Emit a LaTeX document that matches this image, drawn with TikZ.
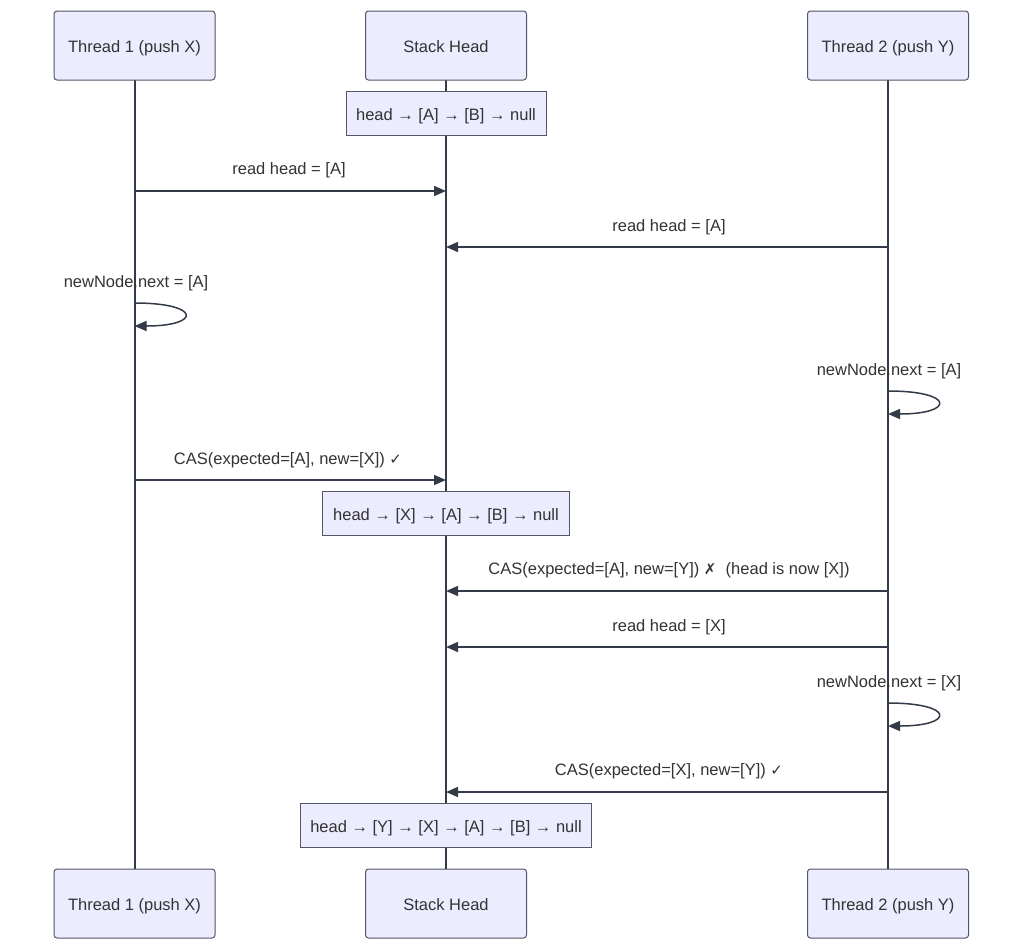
\documentclass[tikz,border=0pt]{standalone}
\usepackage{fontspec}
\setmainfont{Liberation Sans}
\newfontfamily\symfont{DejaVu Sans}
\usetikzlibrary{arrows.meta}
\definecolor{linec}{HTML}{333A48}
\definecolor{boxfill}{HTML}{ECECFF}
\definecolor{boxdraw}{HTML}{555566}
\definecolor{txt}{HTML}{333333}
\tikzset{
  actor/.style={draw=boxdraw, fill=boxfill, rounded corners=3pt, line width=1pt,
    minimum width=161pt, minimum height=69pt, inner sep=0pt, text=txt,
    text height=14pt, text depth=0pt,
    font=\fontsize{16.5}{19}\selectfont},
  notebox/.style={draw=boxdraw, fill=boxfill, line width=1pt, minimum height=44pt,
    inner xsep=10pt, inner ysep=0pt, text=txt, text height=14pt, text depth=0pt,
    font=\fontsize{16.5}{19}\selectfont},
  life/.style={draw=linec, line width=2pt},
  msg/.style={draw=linec, line width=1.5pt, -{Triangle[length=12pt,width=10pt]}},
  lbl/.style={text=txt, font=\fontsize{16.5}{19}\selectfont, inner sep=0pt,
    text height=14pt, text depth=0pt}
}
\begin{document}
\begin{tikzpicture}[x=1pt,y=-1pt]
\useasboundingbox (0,0) rectangle (1024,951);
\fill[white] (0,0) rectangle (1024,951);
% lifelines
\coordinate (t1top) at (134.5,80);
\coordinate (t1bot) at (134.5,869);
\coordinate (shtop) at (446,80);
\coordinate (shbot) at (446,869);
\coordinate (t2top) at (888,80);
\coordinate (t2bot) at (888,869);
\draw[life] (t1top) -- (t1bot);
\draw[life] (shtop) -- (shbot);
\draw[life] (t2top) -- (t2bot);
% actors
\node[actor] (a1) at (134.5,45.5) {Thread 1 (push X)};
\node[actor] (a2) at (446,45.5) {Stack Head};
\node[actor] (a3) at (888,45.5) {Thread 2 (push Y)};
\node[actor] (b1) at (134.5,903.5) {Thread 1 (push X)};
\node[actor] (b2) at (446,903.5) {Stack Head};
\node[actor] (b3) at (888,903.5) {Thread 2 (push Y)};
% notes
\node[notebox, minimum width=200pt] (n1) at (446,113) {head → [A] → [B] → null};
\node[notebox, minimum width=247pt] (n2) at (446,513) {head → [X] → [A] → [B] → null};
\node[notebox, minimum width=290pt] (n3) at (446,825) {head → [Y] → [X] → [A] → [B] → null};
% message endpoints
\coordinate (m1a) at (134.5,191); \coordinate (m1b) at (446,191);
\coordinate (m2a) at (888,247);   \coordinate (m2b) at (446,247);
\coordinate (s1a) at (134.5,303); \coordinate (s1b) at (134.5,326);
\coordinate (s2a) at (888,391);   \coordinate (s2b) at (888,414);
\coordinate (m3a) at (134.5,480); \coordinate (m3b) at (446,480);
\coordinate (m4a) at (888,591);   \coordinate (m4b) at (446,591);
\coordinate (m5a) at (888,647);   \coordinate (m5b) at (446,647);
\coordinate (s3a) at (888,703);   \coordinate (s3b) at (888,726);
\coordinate (m6a) at (888,792);   \coordinate (m6b) at (446,792);
% messages
\draw[msg] (m1a) -- (m1b);
\node[lbl] (l1) at (289,167) {read head = [A]};
\draw[msg] (m2a) -- (m2b);
\node[lbl] (l2) at (669,224) {read head = [A]};
\draw[msg] (s1a) .. controls ([xshift=67pt]s1a) and ([xshift=67pt]s1b) .. (s1b);
\node[lbl] (l3) at (136,280) {newNode.next = [A]};
\draw[msg] (s2a) .. controls ([xshift=67pt]s2a) and ([xshift=67pt]s2b) .. (s2b);
\node[lbl] (l4) at (889,368) {newNode.next = [A]};
\draw[msg] (m3a) -- (m3b);
\node[lbl] (l5) at (288,457) {CAS(expected=[A], new=[X]) {\symfont\fontsize{15}{17}\selectfont ✓}};
\draw[msg] (m4a) -- (m4b);
\node[lbl] (l6) at (669,567) {CAS(expected=[A], new=[Y]) {\symfont\fontsize{15}{17}\selectfont ✗}\ \ (head is now [X])};
\draw[msg] (m5a) -- (m5b);
\node[lbl] (l7) at (669,624) {read head = [X]};
\draw[msg] (s3a) .. controls ([xshift=67pt]s3a) and ([xshift=67pt]s3b) .. (s3b);
\node[lbl] (l8) at (889,680) {newNode.next = [X]};
\draw[msg] (m6a) -- (m6b);
\node[lbl] (l9) at (669,768) {CAS(expected=[X], new=[Y]) {\symfont\fontsize{15}{17}\selectfont ✓}};
\end{tikzpicture}
\end{document}
